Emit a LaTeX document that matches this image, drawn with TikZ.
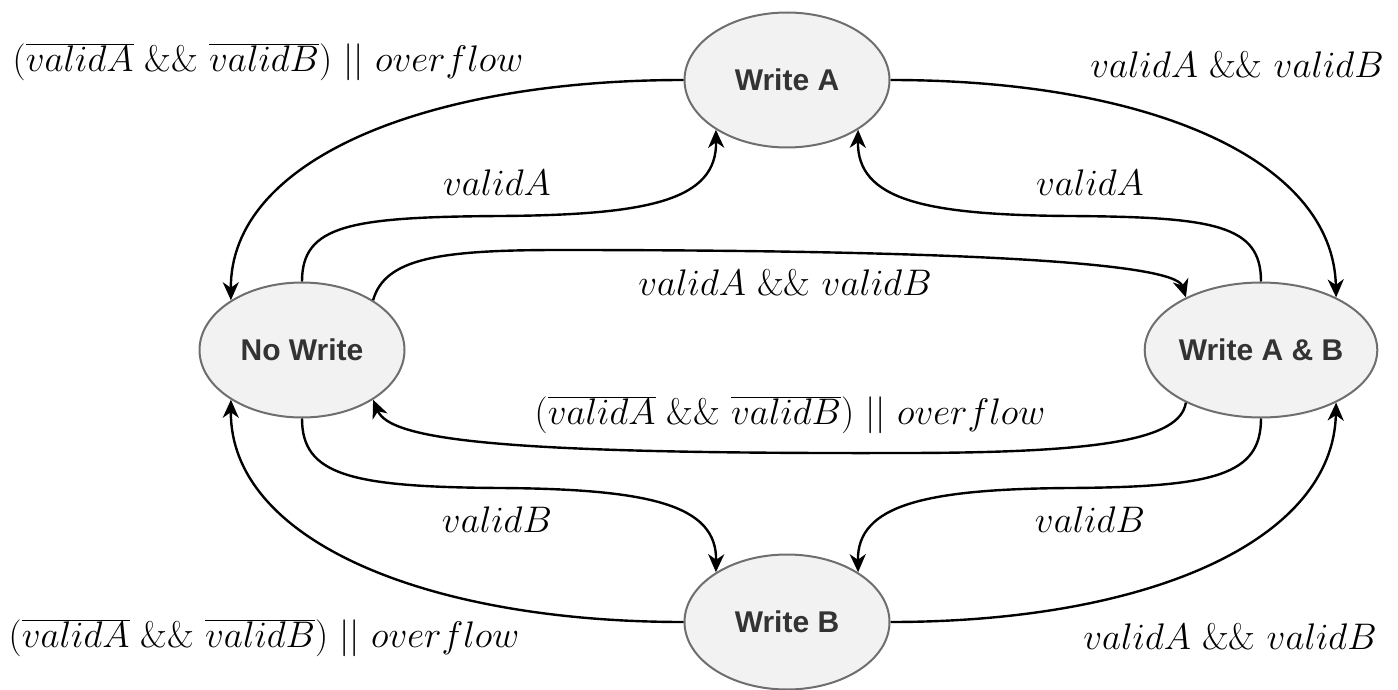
\RequirePackage{fix-cm}
\documentclass[tikz,border=0pt]{standalone}
\usepackage{fontspec}
\setsansfont{Liberation Sans}
\usetikzlibrary{arrows.meta,shapes.geometric}
\definecolor{nodefill}{HTML}{F2F2F2}
\definecolor{nodeline}{HTML}{6E6E6E}
\definecolor{nodetext}{HTML}{333333}
\tikzset{
  state/.style={ellipse, draw=nodeline, fill=nodefill, line width=2pt,
    minimum width=205pt, minimum height=135pt, inner sep=0pt,
    font=\sffamily\bfseries\fontsize{30}{36}\selectfont, text=nodetext},
  trans/.style={line width=2.4pt, -{Stealth[length=18pt,width=16pt,inset=5.5pt]}},
  lbl/.style={font=\fontsize{37}{44}\selectfont, inner sep=0pt}
}
\newcommand{\notboth}{$(\overline{validA}\ \&\&\ \overline{validB})\ ||\ overflow$}
\newcommand{\both}{$validA\ \&\&\ validB$}
\begin{document}
\begin{tikzpicture}[x=1pt,y=-1pt]
\useasboundingbox (0,0) rectangle (1398,690);
\node[state] (wa) at (787,80) {Write A};
\node[state] (nw) at (302,350) {No Write};
\node[state] (wab) at (1261,350) {Write A \& B};
\node[state] (wb) at (787,622) {Write B};

\draw[trans] (wa.west) .. controls (425,80) and (230,160) .. (nw.145);
\draw[trans] (nw.north) .. controls (302,225) and (350,217) .. (500,216) .. controls (650,215) and (717,200) .. (wa.215);
\draw[trans] (nw.35) .. controls (385,258) and (440,250) .. (560,250) .. controls (950,250) and (1175,262) .. (wab.145);
\draw[trans] (wab.north) .. controls (1261,225) and (1215,217) .. (1070,216) .. controls (925,215) and (857,200) .. (wa.325);
\draw[trans] (wa.east) .. controls (1150,80) and (1333,160) .. (wab.35);
\draw[trans] (wab.215) .. controls (1180,440) and (1100,453) .. (900,453) .. controls (500,454) and (390,440) .. (nw.325);
\draw[trans] (nw.south) .. controls (302,475) and (350,487) .. (500,488) .. controls (650,489) and (717,505) .. (wb.145);
\draw[trans] (wab.south) .. controls (1261,475) and (1215,487) .. (1070,488) .. controls (925,489) and (857,505) .. (wb.35);
\draw[trans] (wb.west) .. controls (425,622) and (230,540) .. (nw.215);
\draw[trans] (wb.east) .. controls (1150,622) and (1333,540) .. (wab.325);

\node[lbl] (l1) at (268,62) {\notboth};
\node[lbl] (l2) at (1237,65) {\both};
\node[lbl] (l3) at (497,183) {$validA$};
\node[lbl] (l4) at (1090,183) {$validA$};
\node[lbl] (l5) at (785,283) {\both};
\node[lbl] (l6) at (790,415) {\notboth};
\node[lbl] (l7) at (497,520) {$validB$};
\node[lbl] (l8) at (1090,520) {$validB$};
\node[lbl] (l9) at (264,638) {\notboth};
\node[lbl] (l10) at (1230,637) {\both};
\end{tikzpicture}
\end{document}
